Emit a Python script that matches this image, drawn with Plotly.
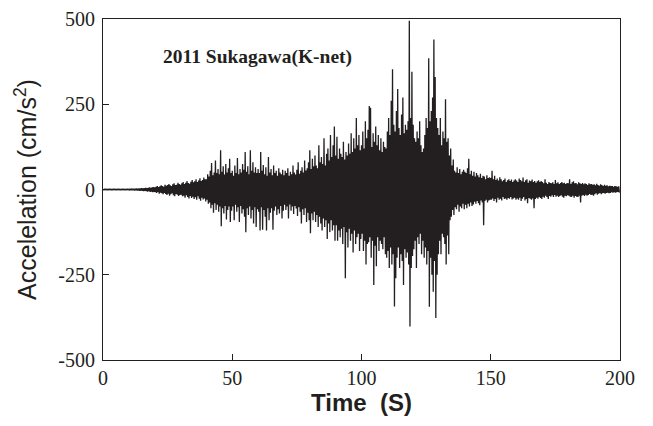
import plotly.graph_objects as go

# Positive peak values (cm/s^2), one per 0.5 s starting at t = 0
upper_peaks = [
    1, 1, 1, 1, 1, 1, 1, 1, 1, 1, 1, 1, 1, 1, 1, 1, 1, 1, 1, 1,
    1, 2, 1, 2, 2, 2, 3, 2, 3, 3, 4, 3, 4, 5, 4, 5, 6, 5, 6, 7,
    6, 8, 10, 7, 9, 12, 10, 8, 14, 11, 13, 16, 12, 10, 15, 18, 13, 14, 20, 16,
    14, 18, 22, 16, 20, 25, 19, 17, 23, 28, 21, 24, 30, 22, 26, 33, 25, 28, 35, 30,
    30, 45, 38, 55, 78, 42, 50, 85, 48, 60, 45, 115, 52, 68, 44, 75, 50, 62, 90, 48,
    55, 40, 70, 48, 92, 45, 60, 50, 75, 58, 110, 52, 68, 45, 115, 55, 80, 50, 65, 48,
    60, 48, 110, 55, 72, 45, 65, 40, 95, 50, 60, 42, 70, 48, 55, 40, 62, 50, 45, 58,
    42, 55, 48, 62, 40, 52, 45, 70, 50, 44, 58, 80, 46, 55, 65, 50, 85, 56, 62, 80,
    115, 60, 90, 68, 100, 70, 62, 130, 80, 95, 75, 150, 70, 105, 120, 85, 160, 95, 130, 185,
    100, 155, 90, 120, 105, 95, 140, 88, 110, 100, 135, 105, 165, 110, 150, 120, 210, 130, 160, 115,
    130, 170, 120, 200, 150, 175, 245, 240, 125, 165, 140, 185, 130, 160, 115, 150, 110, 140, 125, 120,
    170, 210, 160, 260, 353, 190, 170, 230, 295, 180, 160, 220, 270, 165, 190, 175, 200, 495, 210, 345,
    190, 150, 140, 170, 150, 200, 130, 110, 120, 160, 210, 180, 385, 200, 230, 270, 440, 330, 210, 180,
    160, 210, 130, 170, 150, 265, 140, 150, 100, 120, 70, 88, 55, 50, 65, 48, 60, 45, 52, 58,
    52, 48, 62, 90, 45, 55, 40, 52, 38, 48, 42, 36, 46, 34, 40, 38, 30, 42, 34, 36,
    34, 55, 30, 40, 28, 32, 26, 36, 30, 24, 28, 32, 22, 27, 30, 25, 29, 22, 26, 30,
    26, 22, 32, 28, 24, 35, 22, 27, 30, 20, 26, 24, 29, 22, 25, 20, 24, 27, 22, 25,
    22, 18, 30, 20, 16, 22, 19, 18, 21, 16, 28, 18, 21, 16, 19, 22, 18, 20, 16, 19,
    18, 30, 16, 21, 24, 18, 19, 15, 21, 18, 16, 19, 15, 18, 16, 13, 18, 15, 16, 14,
    15, 12, 17, 13, 11, 15, 13, 10, 14, 11, 12, 9, 11, 10, 10, 8, 10, 9, 8, 9,
]

# Negative peak values (cm/s^2), one per 0.5 s starting at t = 0.25
lower_peaks = [
    -1, -1, -1, -1, -1, -1, -1, -1, -1, -1, -1, -1, -1, -1, -1, -1, -1, -1, -1, -1,
    -1, -2, -2, -2, -3, -2, -3, -3, -4, -3, -4, -5, -4, -5, -6, -5, -7, -6, -8, -7,
    -8, -10, -7, -12, -9, -11, -14, -10, -13, -16, -12, -18, -14, -11, -17, -20, -13, -15, -19, -16,
    -15, -20, -18, -24, -17, -22, -26, -19, -25, -21, -28, -23, -30, -20, -27, -33, -24, -29, -26, -35,
    -30, -42, -38, -55, -45, -68, -40, -60, -45, -65, -50, -108, -55, -70, -48, -88, -60, -50, -95, -62,
    -50, -90, -45, -65, -52, -95, -48, -70, -58, -80, -125, -55, -75, -50, -85, -60, -100, -52, -110, -58,
    -65, -120, -52, -118, -60, -80, -120, -55, -90, -68, -55, -118, -62, -50, -75, -58, -70, -48, -85, -62,
    -45, -60, -50, -85, -44, -62, -50, -72, -48, -56, -78, -52, -65, -100, -58, -75, -55, -95, -68, -90,
    -128, -70, -90, -65, -95, -75, -110, -80, -100, -120, -85, -110, -90, -145, -100, -125, -90, -120, -105, -150,
    -105, -150, -120, -140, -115, -160, -110, -260, -125, -170, -115, -150, -130, -185, -120, -160, -140, -130, -180, -145,
    -130, -180, -150, -220, -160, -155, -140, -200, -150, -280, -165, -225, -140, -180, -150, -160, -175, -140, -190, -200,
    -180, -230, -170, -220, -190, -343, -260, -200, -170, -230, -190, -210, -280, -175, -200, -185, -220, -402, -230, -195,
    -175, -150, -230, -140, -160, -130, -190, -150, -200, -170, -220, -180, -344, -200, -250, -300, -210, -377, -250, -190,
    -150, -190, -130, -140, -160, -220, -135, -190, -90, -80, -60, -75, -52, -58, -45, -65, -50, -55, -42, -58,
    -45, -55, -42, -50, -38, -48, -44, -36, -42, -34, -40, -46, -32, -38, -105, -34, -30, -38, -32, -30,
    -30, -26, -34, -28, -38, -24, -30, -27, -32, -22, -28, -26, -30, -25, -27, -22, -29, -26, -24, -30,
    -26, -30, -24, -34, -27, -22, -32, -28, -40, -25, -27, -30, -26, -55, -28, -24, -27, -22, -25, -28,
    -21, -24, -18, -22, -28, -19, -21, -17, -22, -16, -21, -18, -22, -19, -17, -21, -24, -18, -20, -17,
    -18, -21, -22, -18, -24, -19, -21, -22, -18, -38, -18, -16, -19, -15, -18, -16, -13, -16, -15, -18,
    -14, -11, -15, -12, -10, -14, -11, -10, -12, -10, -9, -11, -10, -8, -9, -8, -9, -8, -7, -9,
]

sample_step = 0.25  # seconds between successive samples
x_ticks = [0, 50, 100, 150, 200]
y_ticks = [-500, -250, 0, 250, 500]
y_tick_labels = ["-500", "-250", "0", "250", "500"]
title_text = "2011 Sukagawa(K-net)"

# Interleave positive and negative peaks into one record
accel = []
for u, l in zip(upper_peaks, lower_peaks):
    accel.append(u)
    accel.append(l)
time = [i * sample_step for i in range(len(accel))]

ink = "#231f20"

fig = go.Figure()
fig.add_trace(go.Scatter(x=time, y=accel, mode="lines",
                         line=dict(color=ink, width=1.3), showlegend=False,
                         hoverinfo="skip"))

fig.add_annotation(x=22.5, y=388, xref="x", yref="y", text="<b>" + title_text + "</b>",
                   showarrow=False, xanchor="left", yanchor="middle",
                   font=dict(family="Liberation Serif", size=19.5, color=ink))

axis_common = dict(showline=True, linecolor=ink, linewidth=1, mirror=True,
                   ticks="inside", ticklen=6, tickcolor=ink, tickwidth=1,
                   showgrid=False, zeroline=False, automargin=False,
                   tickfont=dict(family="Liberation Serif", size=20, color=ink))

fig.update_layout(
    width=645, height=418,
    margin=dict(l=95, r=33, t=11, b=66),
    paper_bgcolor="white", plot_bgcolor="white",
    xaxis=dict(range=[0, 200], tickvals=x_ticks,
               title=dict(text="<b>Time\u00a0 (S)</b>", standoff=6,
                          font=dict(family="Liberation Sans", size=24, color=ink)),
               **axis_common),
    yaxis=dict(range=[-500, 500], tickvals=y_ticks, ticktext=y_tick_labels,
               ticklabelstandoff=3,
               title=dict(text="Accelelation (cm/s<sup>2</sup>)", standoff=14,
                          font=dict(family="Liberation Sans", size=25, color=ink)),
               **axis_common),
)

fig.write_html("out.html")
